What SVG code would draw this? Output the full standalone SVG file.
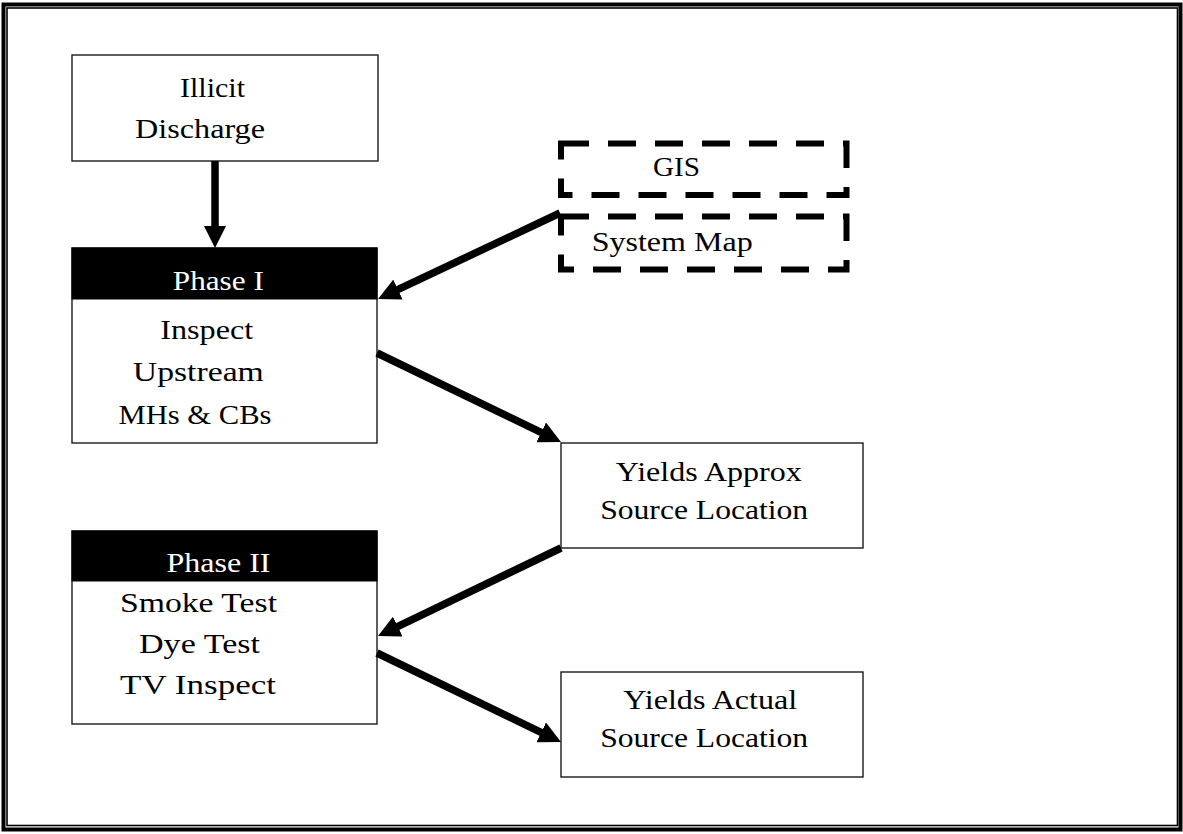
<svg xmlns="http://www.w3.org/2000/svg" width="1183" height="834" viewBox="0 0 1183 834">
<style>
.box{fill:#fff;stroke:#1a1a1a;stroke-width:1.4}
.hdr{fill:#000;stroke:#000;stroke-width:1}
.dash{fill:none;stroke:#000;stroke-width:6;stroke-dasharray:28 19}
.t{font-family:"Liberation Serif","Times New Roman",serif;font-size:28px;fill:#000;text-anchor:middle}
.w{fill:#fff}
.c{fill:none;stroke:#000;stroke-width:7.5;marker-end:url(#ah)}
</style>
<defs>
<marker id="ah" markerUnits="userSpaceOnUse" viewBox="0 0 22 22" refX="9" refY="11" markerWidth="22" markerHeight="22" orient="auto">
<path d="M0,0 L22,11 L0,22 z" fill="#000"/>
</marker>
</defs>
<rect width="1183" height="834" fill="#fff"/>
<g id="frame">
<rect x="3.5" y="4.5" width="1177" height="825" fill="none" stroke="#000" stroke-width="4"/>
<rect x="7" y="8" width="1170.5" height="817.5" fill="none" stroke="#000" stroke-width="1.6"/>
</g>
<g id="illicit">
<rect class="box" x="72" y="55" width="306" height="106"/>
<text class="t" x="212.5" y="97" textLength="65" lengthAdjust="spacingAndGlyphs">Illicit</text>
<text class="t" x="200" y="138" textLength="130" lengthAdjust="spacingAndGlyphs">Discharge</text>
</g>
<g id="phase1">
<rect class="box" x="72" y="248" width="305" height="195"/>
<rect class="hdr" x="72" y="248" width="305" height="51"/>
<text class="t w" x="218.3" y="290" textLength="91" lengthAdjust="spacingAndGlyphs">Phase I</text>
<text class="t" x="206.7" y="339" textLength="93" lengthAdjust="spacingAndGlyphs">Inspect</text>
<text class="t" x="198.3" y="381" textLength="131" lengthAdjust="spacingAndGlyphs">Upstream</text>
<text class="t" x="195" y="423.5" textLength="153" lengthAdjust="spacingAndGlyphs">MHs &amp; CBs</text>
</g>
<g id="gis">
<rect class="dash" x="561" y="143.5" width="285.5" height="51.5"/>
<text class="t" x="676.5" y="176" textLength="47" lengthAdjust="spacingAndGlyphs">GIS</text>
</g>
<g id="systemmap">
<rect class="dash" x="561" y="216.5" width="285.5" height="53"/>
<text class="t" x="672.2" y="251" textLength="161" lengthAdjust="spacingAndGlyphs">System Map</text>
</g>
<g id="approx">
<rect class="box" x="561" y="443" width="302" height="105"/>
<text class="t" x="708.8" y="481" textLength="186" lengthAdjust="spacingAndGlyphs">Yields Approx</text>
<text class="t" x="704.2" y="518.5" textLength="208" lengthAdjust="spacingAndGlyphs">Source Location</text>
</g>
<g id="phase2">
<rect class="box" x="72" y="531" width="305" height="193"/>
<rect class="hdr" x="72" y="531" width="305" height="50"/>
<text class="t w" x="218.5" y="572" textLength="104" lengthAdjust="spacingAndGlyphs">Phase II</text>
<text class="t" x="198.5" y="612" textLength="157" lengthAdjust="spacingAndGlyphs">Smoke Test</text>
<text class="t" x="199.5" y="653" textLength="121" lengthAdjust="spacingAndGlyphs">Dye Test</text>
<text class="t" x="198" y="694" textLength="156" lengthAdjust="spacingAndGlyphs">TV Inspect</text>
</g>
<g id="actual">
<rect class="box" x="561" y="672" width="302" height="105"/>
<text class="t" x="710.3" y="708.5" textLength="174" lengthAdjust="spacingAndGlyphs">Yields Actual</text>
<text class="t" x="704.2" y="747" textLength="208" lengthAdjust="spacingAndGlyphs">Source Location</text>
</g>
<g id="connectors">
<line class="c" x1="215" y1="161" x2="215" y2="235"/>
<line class="c" x1="560" y1="213" x2="389.8" y2="293.4"/>
<line class="c" x1="377" y1="353" x2="549.3" y2="436.3"/>
<line class="c" x1="561" y1="548" x2="389.7" y2="630.4"/>
<line class="c" x1="377" y1="653" x2="549.3" y2="736.3"/>
</g>
</svg>
